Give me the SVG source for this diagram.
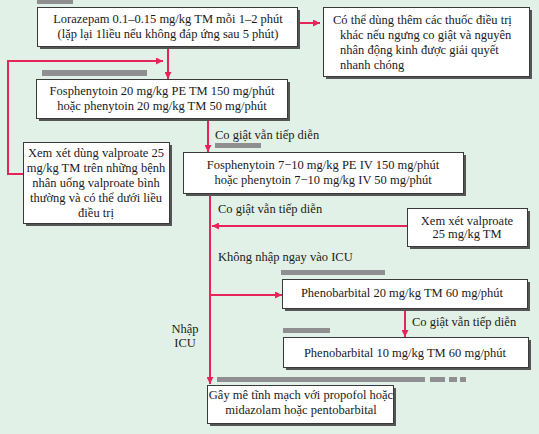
<svg xmlns="http://www.w3.org/2000/svg" width="539" height="434" viewBox="0 0 539 434">
<defs>
<marker id="ah" viewBox="0 0 10 10" refX="10" refY="5" markerWidth="7" markerHeight="7" markerUnits="userSpaceOnUse" orient="auto">
<path d="M0,0 L10,5 L0,10 z" fill="#e6245a"/>
</marker>
</defs>
<style>
.bx{fill:#fff;stroke:#3a3a3a;stroke-width:1}
.sh{fill:#555}
.t{font-family:"Liberation Serif","Times New Roman",serif;font-size:12.5px;fill:#1a1a1a}
.c{text-anchor:middle}
.ln{stroke:#e6245a;stroke-width:2;fill:none}
.bar{fill:#8f8f91}
</style>
<rect x="0" y="0" width="539" height="434" fill="#e2f1e7"/>

<g id="bars">
<rect class="bar" x="37" y="0" width="36" height="4"/>
<rect class="bar" x="42" y="70" width="105" height="6"/>
<rect class="bar" x="215" y="143" width="46" height="5"/>
<rect class="bar" x="281" y="270" width="104" height="5"/>
<rect class="bar" x="283" y="328" width="47" height="5"/>
<rect class="bar" x="217" y="377" width="208" height="5"/>
<rect class="bar" x="430" y="377" width="15" height="5"/>
<rect class="bar" x="449" y="377" width="8" height="5"/>
<rect class="bar" x="460" y="377" width="6" height="5"/>
</g>

<g id="connectors">
<line class="ln" x1="298" y1="23" x2="320" y2="23" marker-end="url(#ah)"/>
<line class="ln" x1="168" y1="47" x2="168" y2="79" marker-end="url(#ah)"/>
<polyline class="ln" points="23,174 8,174 8,61 163,61" marker-end="url(#ah)"/>
<line class="ln" x1="208" y1="118" x2="208" y2="152" marker-end="url(#ah)"/>
<line class="ln" x1="210" y1="193" x2="210" y2="384" marker-end="url(#ah)"/>
<line class="ln" x1="407" y1="226" x2="212" y2="226" marker-end="url(#ah)"/>
<line class="ln" x1="210" y1="295" x2="282" y2="295" marker-end="url(#ah)"/>
<line class="ln" x1="405" y1="308" x2="405" y2="337" marker-end="url(#ah)"/>
</g>

<g id="labels">
<text class="t" x="215" y="139">Co giật vẫn tiếp diễn</text>
<text class="t" x="218" y="213">Co giật vẫn tiếp diễn</text>
<text class="t" x="218" y="261">Không nhập ngay vào ICU</text>
<text class="t" x="412" y="326">Co giật vẫn tiếp diễn</text>
<text class="t c" x="185" y="333">Nhập</text>
<text class="t c" x="185" y="347">ICU</text>
</g>

<g id="n1">
<rect class="sh" x="40" y="10" width="260" height="39"/>
<rect class="bx" x="37.5" y="7.5" width="260" height="39"/>
<text class="t c" x="168" y="23">Lorazepam 0.1–0.15 mg/kg TM mỗi 1–2 phút</text>
<text class="t c" x="168" y="38">(lặp lại 1liều nếu không đáp ứng sau 5 phút)</text>
</g>

<g id="n2">
<rect class="sh" x="326" y="10" width="206" height="69"/>
<rect class="bx" x="323.5" y="7.5" width="206" height="69"/>
<text class="t" x="333" y="24">Có thể dùng thêm các thuốc điều trị</text>
<text class="t" x="340" y="39">khác nếu ngưng co giật và nguyên</text>
<text class="t" x="340" y="54">nhân động kinh được giải quyết</text>
<text class="t" x="340" y="69">nhanh chóng</text>
</g>

<g id="n3">
<rect class="sh" x="39" y="82" width="251" height="39"/>
<rect class="bx" x="36.5" y="79.5" width="251" height="39"/>
<text class="t c" x="162" y="95">Fosphenytoin 20 mg/kg PE TM 150 mg/phút</text>
<text class="t c" x="162" y="110">hoặc phenytoin 20 mg/kg TM 50 mg/phút</text>
</g>

<g id="n4">
<rect class="sh" x="26" y="145" width="146" height="81"/>
<rect class="bx" x="23.5" y="142.5" width="146" height="81"/>
<text class="t c" x="96" y="157">Xem xét dùng valproate 25</text>
<text class="t c" x="96" y="172">mg/kg TM trên những bệnh</text>
<text class="t c" x="96" y="187">nhân uống valproate bình</text>
<text class="t c" x="96" y="202">thường và có thể dưới liều</text>
<text class="t c" x="96" y="217">điều trị</text>
</g>

<g id="n5">
<rect class="sh" x="186" y="155" width="280" height="41"/>
<rect class="bx" x="183.5" y="152.5" width="280" height="41"/>
<text class="t c" x="323" y="169">Fosphenytoin 7−10 mg/kg PE IV 150 mg/phút</text>
<text class="t c" x="323" y="184">hoặc phenytoin 7−10 mg/kg IV 50 mg/phút</text>
</g>

<g id="n6">
<rect class="sh" x="410" y="211" width="120" height="38"/>
<rect class="bx" x="407.5" y="208.5" width="120" height="38"/>
<text class="t c" x="467" y="225">Xem xét valproate</text>
<text class="t c" x="467" y="238">25 mg/kg TM</text>
</g>

<g id="n7">
<rect class="sh" x="285" y="282" width="245" height="29"/>
<rect class="bx" x="282.5" y="279.5" width="245" height="29"/>
<text class="t c" x="402" y="297">Phenobarbital 20 mg/kg TM 60 mg/phút</text>
</g>

<g id="n8">
<rect class="sh" x="286" y="340" width="245" height="30"/>
<rect class="bx" x="283.5" y="337.5" width="245" height="30"/>
<text class="t c" x="405" y="357">Phenobarbital 10 mg/kg TM 60 mg/phút</text>
</g>

<g id="n9">
<rect class="sh" x="210" y="388" width="186" height="38"/>
<rect class="bx" x="207.5" y="385.5" width="186" height="38"/>
<text class="t c" x="301" y="399">Gây mê tĩnh mạch với propofol hoặc</text>
<text class="t c" x="301" y="414">midazolam hoặc pentobarbital</text>
</g>
</svg>
